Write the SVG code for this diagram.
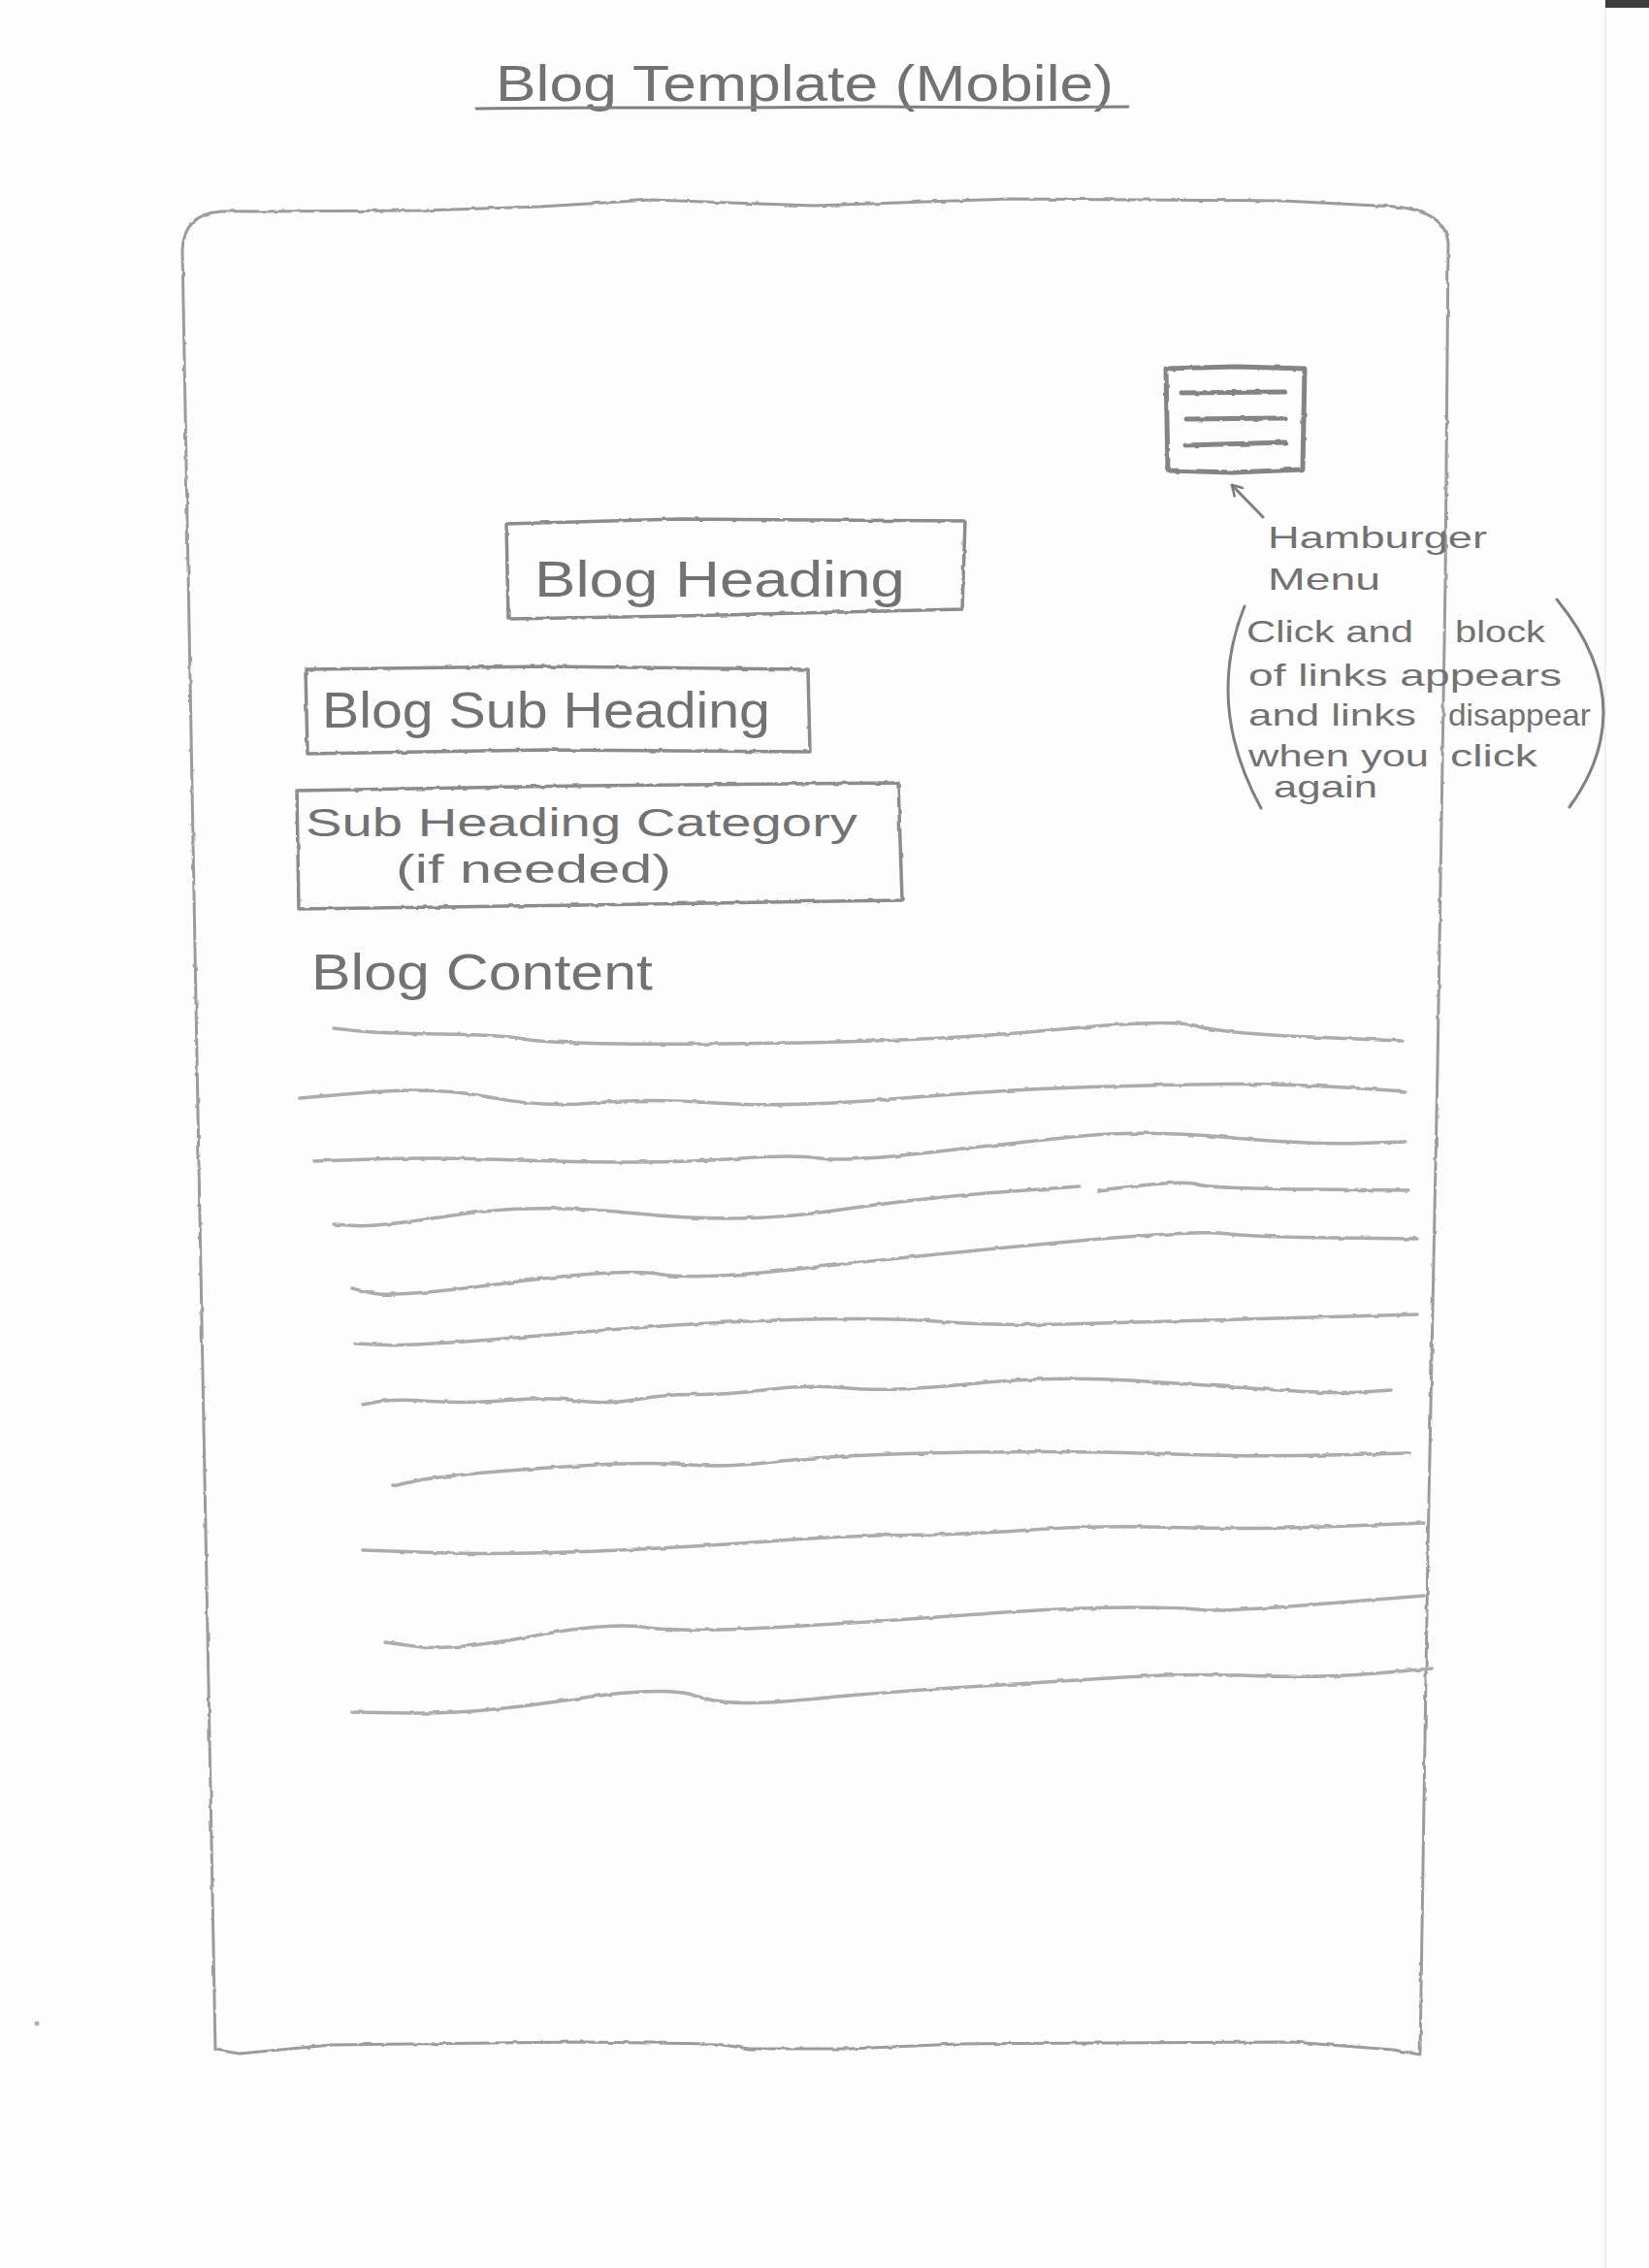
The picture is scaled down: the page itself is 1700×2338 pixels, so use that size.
<svg xmlns="http://www.w3.org/2000/svg" width="1700" height="2338" viewBox="0 0 1700 2338">
  <defs>
    <filter id="pencil" x="-2%" y="-10%" width="104%" height="120%">
      <feTurbulence type="fractalNoise" baseFrequency="0.09" numOctaves="2" seed="7" result="n"/>
      <feDisplacementMap in="SourceGraphic" in2="n" scale="3" xChannelSelector="R" yChannelSelector="G"/>
    </filter>
    <marker id="arrowhead" markerWidth="14" markerHeight="14" refX="12" refY="7" orient="auto" markerUnits="userSpaceOnUse">
      <path d="M2,1 L12,7 L2,13" fill="none" stroke="#7a7a7a" stroke-width="2.5" stroke-linecap="round" stroke-linejoin="round"/>
    </marker>
  </defs>
  <style>
    .paper { fill: #fdfdfd; }
    .frame { fill: none; stroke: #9c9c9c; stroke-width: 3; stroke-linejoin: round; stroke-linecap: round; }
    .box { fill: none; stroke: #8c8c8c; stroke-width: 3.5; stroke-linejoin: round; stroke-linecap: round; }
    .burger { fill: none; stroke: #848484; stroke-width: 5; stroke-linejoin: round; stroke-linecap: round; }
    .rule { fill: none; stroke: #acacac; stroke-width: 3.5; stroke-linejoin: round; stroke-linecap: round; }
    .pen { fill: none; stroke: #808080; stroke-width: 3; stroke-linecap: round; stroke-linejoin: round; }
    .hand { font-family: "Liberation Sans", "DejaVu Sans", sans-serif; fill: #727272; }
    .big { font-size: 52px; }
    .mid { font-size: 40px; }
    .note { font-size: 32px; }
  </style>

  <!-- sheet of paper -->
  <rect class="paper" x="0" y="0" width="1700" height="2338"/>
  <line x1="1655" y1="0" x2="1655" y2="2338" stroke="#f0f0f0" stroke-width="2"/>
  <rect x="1655" y="0" width="45" height="8" fill="#3c3c3c"/>
  <circle cx="38" cy="2086" r="2.5" fill="#b0b0b0"/>

  <!-- page title -->
  <g id="title">
    <text class="hand big" x="511" y="104" textLength="637" lengthAdjust="spacingAndGlyphs">Blog Template (Mobile)</text>
    <path class="pen" d="M491,112 L620,111 L760,111 L900,110 L1040,111 L1163,110"/>
  </g>

  <!-- phone outline -->
  <g id="phone-frame" filter="url(#pencil)">
    <path class="frame" d="M188,257 Q190,221 227,218 L434,217 L557,213 L672,206 L839,212 L1041,205 L1323,207 L1438,213 Q1490,218 1493,250 L1490,600 L1482,1100 L1472,1600 L1464,2118 L1436,2113 L1332,2105 L988,2107 L876,2112 L773,2112 L738,2107 L600,2105 L342,2108 L247,2117 L222,2113 L205,1200 Z"/>
  </g>

  <!-- menu button -->
  <g id="hamburger-menu" filter="url(#pencil)">
    <path class="burger" d="M1202,380 L1275,378 L1345,380 L1343,484 L1270,487 L1204,485 Z"/>
    <path class="burger" d="M1218,405 L1325,404"/>
    <path class="burger" d="M1223,432 L1325,431"/>
    <path class="burger" d="M1222,459 L1325,456"/>
  </g>

  <!-- heading boxes -->
  <g id="blog-heading">
    <path class="box" filter="url(#pencil)" d="M522,540 L700,535 L995,537 L992,628 L700,635 L524,638 Z"/>
    <text class="hand big" x="551" y="615" textLength="382" lengthAdjust="spacingAndGlyphs">Blog Heading</text>
  </g>

  <g id="blog-sub-heading">
    <path class="box" filter="url(#pencil)" d="M315,690 L560,687 L833,690 L835,775 L560,773 L317,777 Z"/>
    <text class="hand big" x="332" y="750" textLength="462" lengthAdjust="spacingAndGlyphs">Blog Sub Heading</text>
  </g>

  <g id="sub-heading-category">
    <path class="box" filter="url(#pencil)" d="M306,815 L600,810 L926,807 L930,928 L600,933 L308,937 Z"/>
    <text class="hand mid" x="315" y="862" textLength="569" lengthAdjust="spacingAndGlyphs">Sub Heading Category</text>
    <text class="hand mid" x="408" y="910" textLength="284" lengthAdjust="spacingAndGlyphs">(if needed)</text>
  </g>

  <!-- body copy placeholder: wavy pencil rules -->
  <g id="blog-content">
    <text class="hand big" x="321" y="1020" textLength="352" lengthAdjust="spacingAndGlyphs">Blog Content</text>
    <g filter="url(#pencil)">
      <path class="rule" d="M344,1060 L366.5,1062.5 Q389,1065 454.5,1066 Q520,1067 539,1071 Q558,1075 638,1076 Q718,1077 848.5,1074.5 Q979,1072 1093.5,1061 Q1208,1050 1233,1057.5 Q1258,1065 1352,1069 L1446,1073"/>
      <path class="rule" d="M309,1132 L380,1126 Q451,1120 504.5,1131 Q558,1142 611.5,1137 Q665,1132 737.5,1137 Q810,1142 925,1132.5 Q1040,1123 1124,1120.5 Q1208,1118 1265.5,1117.5 Q1323,1117 1386,1121 L1449,1125"/>
      <path class="rule" d="M324,1197 L383.5,1195 Q443,1193 519.5,1195.5 Q596,1198 653.5,1198 Q711,1198 764.5,1194 Q818,1190 844.5,1194 Q871,1198 963,1187.5 Q1055,1177 1116.5,1171 Q1178,1165 1266,1172.5 Q1354,1180 1401.5,1178.5 L1449,1177"/>
      <path class="rule" d="M344,1262 L366.5,1263.5 Q389,1265 469.5,1252.5 Q550,1240 657,1251 Q764,1262 856,1248.5 Q948,1235 1030.5,1229 L1113,1223"/>
      <path class="rule" d="M1132,1227 L1177.5,1222 Q1223,1217 1234.5,1221 Q1246,1225 1349.5,1226 L1453,1227"/>
      <path class="rule" d="M363,1328 L384,1333 Q405,1338 523.5,1322.5 Q642,1307 680,1313.5 Q718,1320 829,1307.5 Q940,1295 1085.5,1281.5 Q1231,1268 1261.5,1271.5 Q1292,1275 1376.5,1276 L1461,1277"/>
      <path class="rule" d="M367,1385 L397.5,1386.5 Q428,1388 573,1375.5 Q718,1363 817.5,1360.5 Q917,1358 970.5,1362.5 Q1024,1367 1116,1364.5 Q1208,1362 1334.5,1358.5 L1461,1355"/>
      <path class="rule" d="M374,1448 L389.5,1445 Q405,1442 443,1444.5 Q481,1447 523,1443.5 Q565,1440 596,1444 Q627,1448 657.5,1442.5 Q688,1437 718.5,1437.5 Q749,1438 791,1432.5 Q833,1427 875,1431 Q917,1435 1001.5,1426.5 Q1086,1418 1166,1423 Q1246,1428 1311,1432.5 Q1376,1437 1405,1435 L1434,1433"/>
      <path class="rule" d="M405,1532 L424,1527.5 Q443,1523 500.5,1518 Q558,1513 615.5,1510 Q673,1507 711,1510 Q749,1513 802.5,1506.5 Q856,1500 978.5,1497.5 Q1101,1495 1193,1498.5 Q1285,1502 1369,1500 L1453,1498"/>
      <path class="rule" d="M374,1598 L447,1600.5 Q520,1603 615.5,1599 Q711,1595 791,1589 Q871,1583 932.5,1582.5 Q994,1582 1063,1577 Q1132,1572 1208.5,1574.5 Q1285,1577 1376.5,1573.5 L1468,1570"/>
      <path class="rule" d="M397,1693 L431.5,1697.5 Q466,1702 546.5,1687 Q627,1672 665,1677.5 Q703,1683 802.5,1677.5 Q902,1672 1001.5,1664.5 Q1101,1657 1162,1657 Q1223,1657 1238.5,1659.5 Q1254,1662 1361,1653.5 L1468,1645"/>
      <path class="rule" d="M363,1765 L426,1766 Q489,1767 588.5,1752 Q688,1737 718.5,1748.5 Q749,1760 825.5,1752.5 Q902,1745 997.5,1739 Q1093,1733 1158,1729 Q1223,1725 1292,1727.5 Q1361,1730 1418.5,1725 L1476,1720"/>
    </g>
  </g>

  <!-- side note about the menu -->
  <g id="hamburger-note">
    <text class="hand note" x="1307" y="565" textLength="226" lengthAdjust="spacingAndGlyphs">Hamburger</text>
    <text class="hand note" x="1307" y="608" textLength="116" lengthAdjust="spacingAndGlyphs">Menu</text>
    <text class="hand note" x="1285" y="662" textLength="172" lengthAdjust="spacingAndGlyphs">Click and</text>
    <text class="hand note" x="1500" y="662" textLength="93" lengthAdjust="spacingAndGlyphs">block</text>
    <text class="hand note" x="1287" y="707" textLength="323" lengthAdjust="spacingAndGlyphs">of links appears</text>
    <text class="hand note" x="1287" y="748" textLength="173" lengthAdjust="spacingAndGlyphs">and links</text>
    <text class="hand note" x="1493" y="748" textLength="147" lengthAdjust="spacingAndGlyphs">disappear</text>
    <text class="hand note" x="1287" y="790" textLength="186" lengthAdjust="spacingAndGlyphs">when you</text>
    <text class="hand note" x="1495" y="790" textLength="90" lengthAdjust="spacingAndGlyphs">click</text>
    <text class="hand note" x="1313" y="822" textLength="107" lengthAdjust="spacingAndGlyphs">again</text>
    <path class="pen" d="M1283,625 Q1242,727 1300,833"/>
    <path class="pen" d="M1605,618 Q1694,727 1618,832"/>
  </g>

  <!-- connectors -->
  <g id="connectors">
    <path class="pen" d="M1302,533 L1270,500" marker-end="url(#arrowhead)"/>
  </g>
</svg>
